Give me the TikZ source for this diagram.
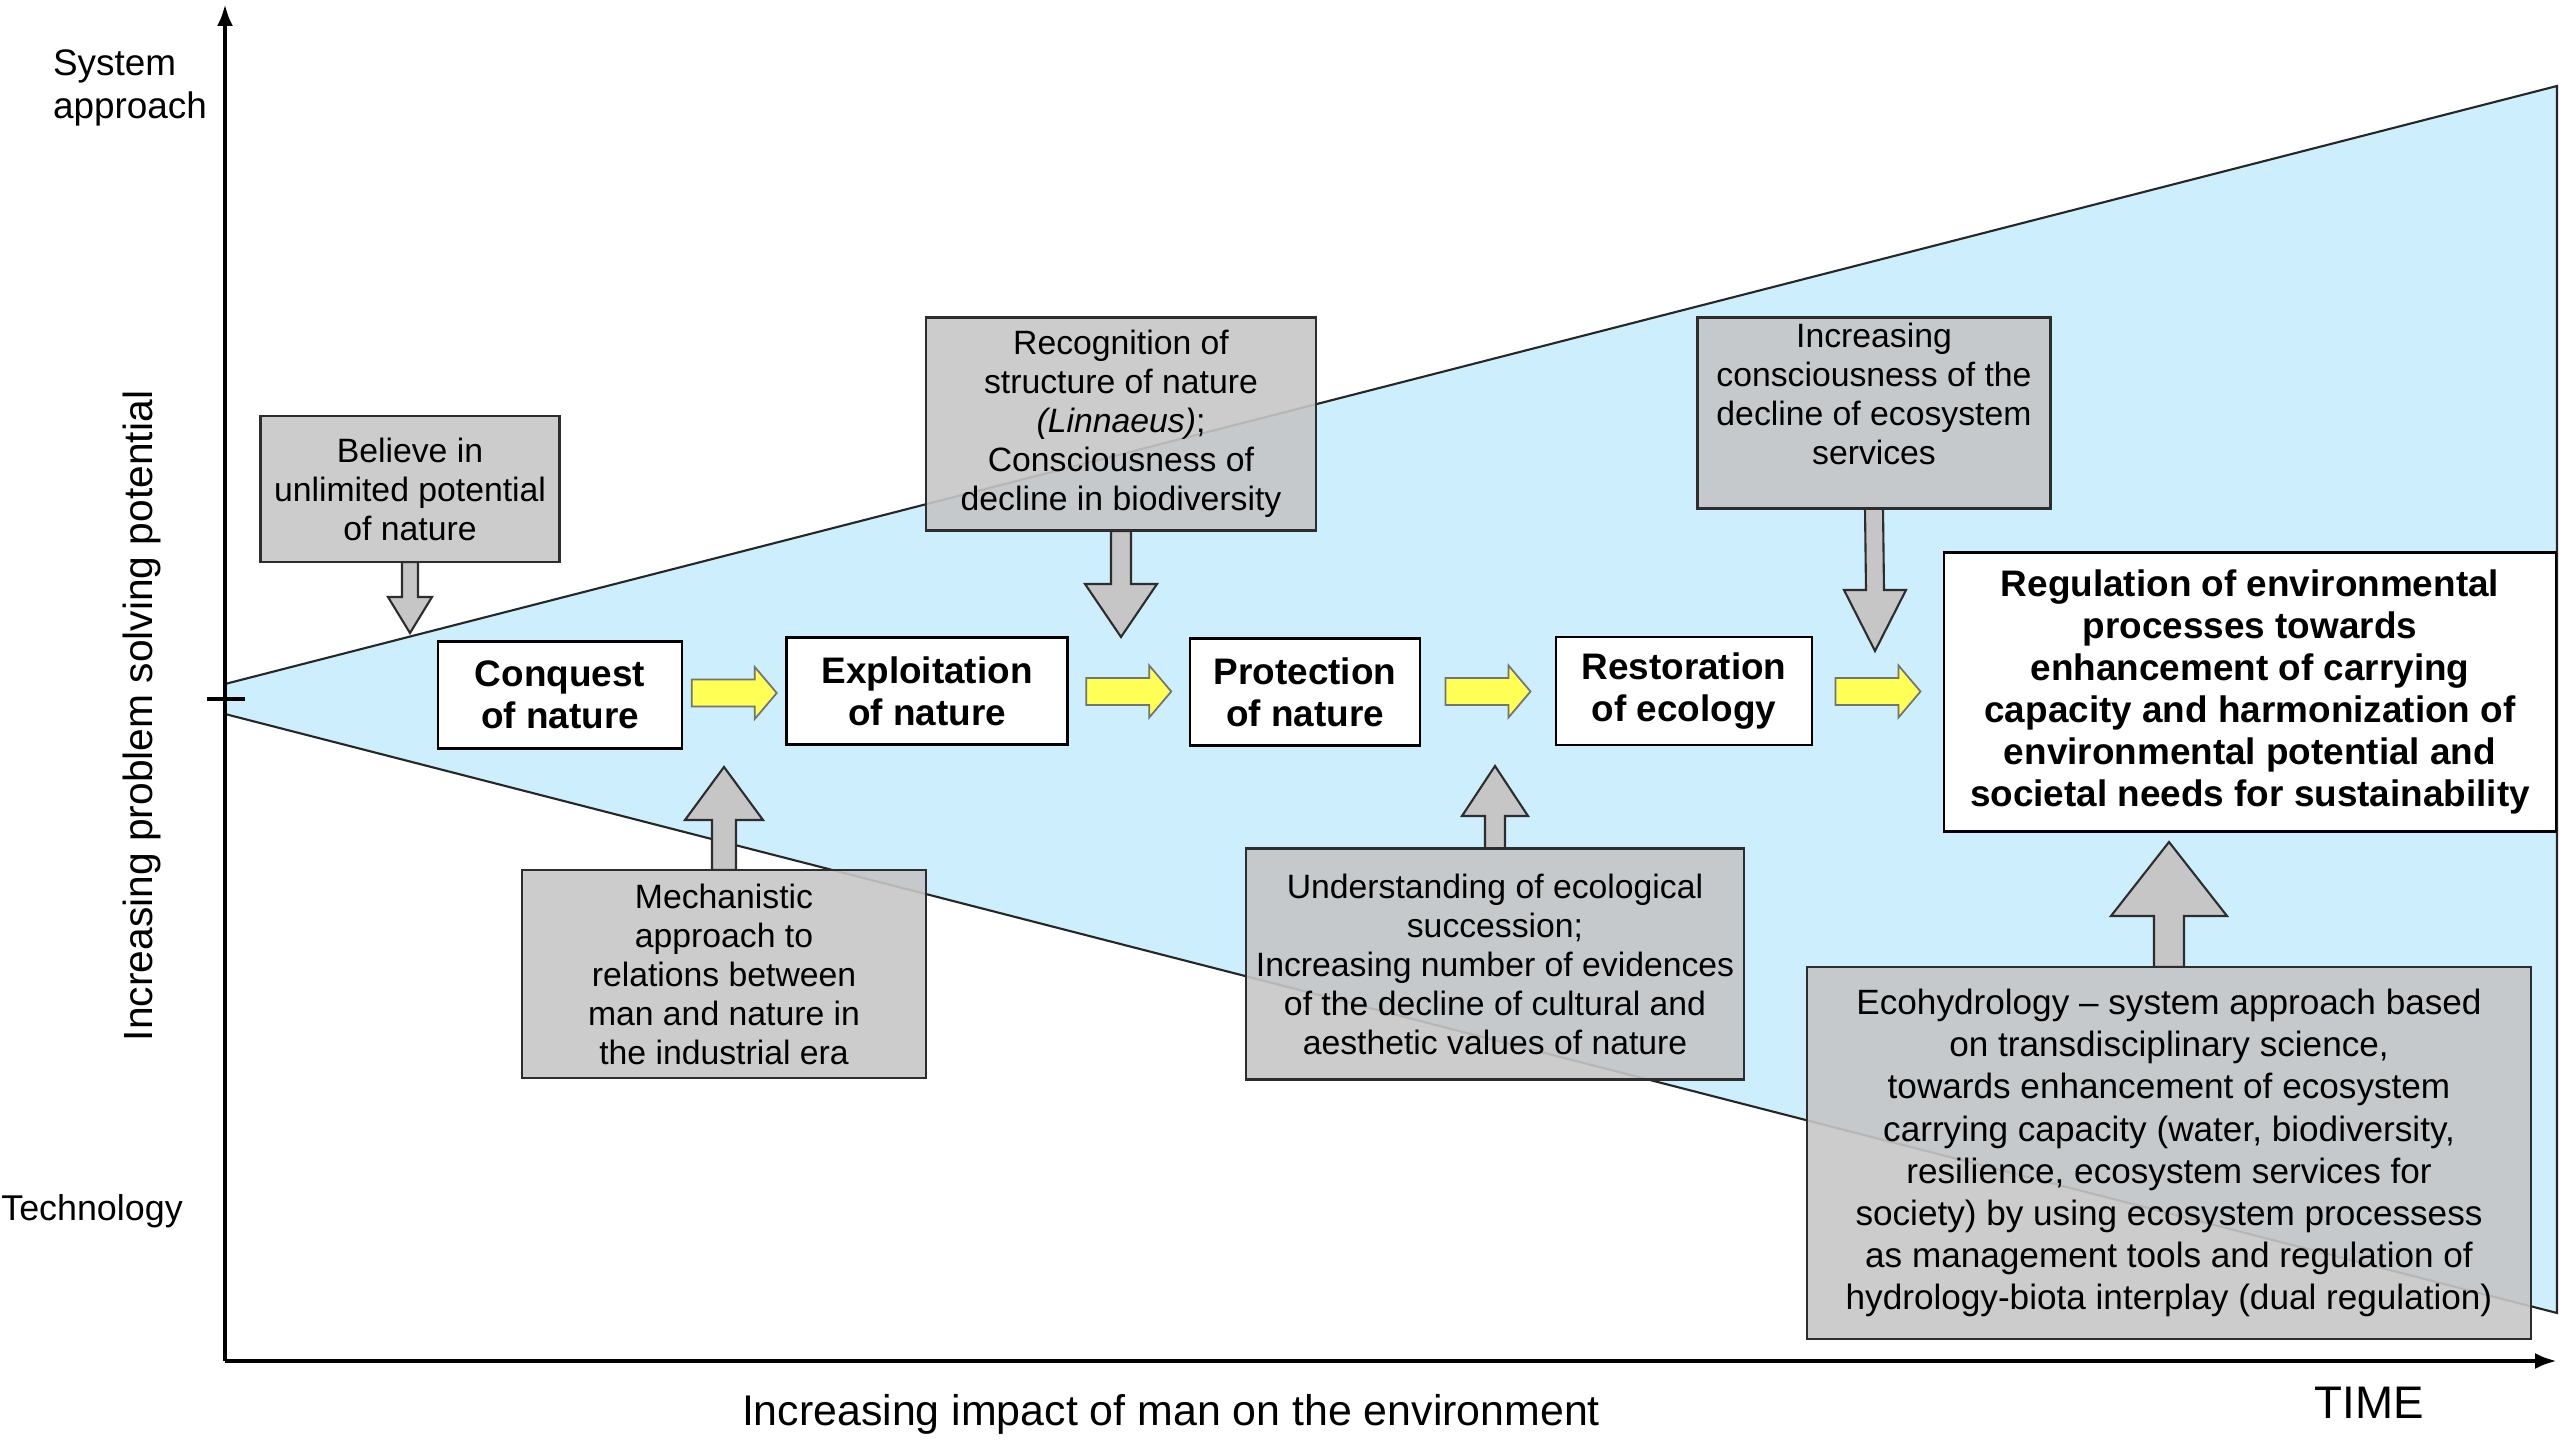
\documentclass[tikz,border=0pt]{standalone}
\usepackage{fontspec}
\setmainfont{Liberation Sans}
\usetikzlibrary{calc,arrows.meta}
\definecolor{skyfill}{RGB}{205,238,252}
\definecolor{boxgray}{RGB}{198,198,198}
\definecolor{boxline}{RGB}{45,45,45}
\definecolor{arrowyellow}{RGB}{255,255,85}

% vertical block arrow: #1 base on box edge, #2 tip, #3 shaft half width,
% #4 head half width, #5 signed head length (negative: tip points down)
\newcommand{\vblock}[5]{%
  \draw[grayarrow] ($(#1)+(-#3,0)$) -- ($(#2)+(-#3,#5)$) -- ($(#2)+(-#4,#5)$)
    -- (#2) -- ($(#2)+(#4,#5)$) -- ($(#2)+(#3,#5)$) -- ($(#1)+(#3,0)$) -- cycle;}
% short yellow block arrow centred on #1, pointing right
\newcommand{\yblock}[1]{%
  \draw[yellowarrow] ($(#1)+(-42.5,-13.5)$) -- ($(#1)+(20.5,-13.5)$) -- ($(#1)+(20.5,-26)$)
    -- ($(#1)+(42.5,0)$) -- ($(#1)+(20.5,26)$) -- ($(#1)+(20.5,13.5)$)
    -- ($(#1)+(-42.5,13.5)$) -- cycle;}

\begin{document}
\begin{tikzpicture}[x=0.1mm,y=-0.1mm,line join=miter,
  whitebox/.style={draw=black,line width=0.75pt,fill=white,align=center,inner sep=0pt,
    font=\fontsize{10.5}{12}\selectfont\bfseries},
  graybox/.style={draw=boxline,line width=0.75pt,fill=boxgray,fill opacity=0.9,text opacity=1,
    align=center,inner sep=0pt,font=\fontsize{9.6}{11.1}\selectfont},
  grayarrow/.style={draw=boxline,line width=0.6pt,fill=boxgray},
  yellowarrow/.style={draw=black!55,line width=0.5pt,fill=arrowyellow},
  edge/.style={draw=black!85,line width=0.6pt},
  axis/.style={line width=1.2pt,-{Latex[length=2.2mm,width=1.6mm]}},
]
\useasboundingbox (0,0) rectangle (2560,1440);

% widening band of problem solving potential
\coordinate (bandUL) at (225,684);
\coordinate (bandUR) at (2557,86);
\coordinate (bandLR) at (2557,1313);
\coordinate (bandLL) at (225,714);
\fill[skyfill] (bandUL) -- (bandUR) -- (bandLR) -- (bandLL) -- cycle;
\draw[edge] (bandUL) -- (bandUR) -- (bandLR) -- (bandLL);

% axes
\coordinate (origin) at (225,1361);
\coordinate (ytop) at (225,4);
\coordinate (xend) at (2557,1361);
\draw[axis] (origin) -- (ytop);
\draw[axis] (origin) -- (xend);
\coordinate (tickL) at (207,699);
\coordinate (tickR) at (245,699);
\draw[line width=1.1pt] (tickL) -- (tickR);

% axis labels
\node[align=left,font=\fontsize{10.5}{12}\selectfont] (sysap) at (130,88) {System\\approach};
\node[font=\fontsize{10.2}{12}\selectfont] (tech) at (92,1211) {Technology};
\node[rotate=90,font=\fontsize{11.6}{13}\selectfont] (ylab) at (142,716) {Increasing problem solving potential};
\node[font=\fontsize{12.2}{14}\selectfont] (xlab) at (1171,1414) {Increasing impact of man on the environment};
\node[font=\fontsize{13}{15}\selectfont] (time) at (2369,1403) {TIME};

% stage boxes
\node[whitebox,minimum width=24.4mm,minimum height=10.7mm] (conquest) at (560,695) {Conquest\\of nature};
\node[whitebox,minimum width=28.1mm,minimum height=10.7mm] (exploit) at (927,691) {Exploitation\\of nature};
\node[whitebox,minimum width=23.0mm,minimum height=10.7mm] (protect) at (1305,692) {Protection\\of nature};
\node[whitebox,minimum width=25.6mm,minimum height=10.8mm] (restore) at (1684,691) {Restoration\\of ecology};
\node[whitebox,minimum width=61.2mm,minimum height=27.9mm] (regul) at (2250,692)
  {Regulation of environmental\\processes towards\\enhancement of carrying\\capacity and harmonization of\\environmental potential and\\societal needs for sustainability};

% arrow tips
\coordinate (tipBelieve) at (410,633);
\coordinate (tipRecog) at (1121,637);
\coordinate (tipConsc) at (1875,651);
\coordinate (tipMech) at (724,767);
\coordinate (tipUnder) at (1495,766);
\coordinate (tipEco) at (2169,842);

% driver boxes (positions only, arrows drawn underneath)
\path (410,489) coordinate (cBelieve)
      (1121,424) coordinate (cRecog)
      (1874,413) coordinate (cConsc)
      (724,974) coordinate (cMech)
      (1495,964) coordinate (cUnder)
      (2169,1153) coordinate (cEco);

\vblock{410,562}{tipBelieve}{8}{22}{-36}
\vblock{1121,531}{tipRecog}{10}{36}{-53}
\vblock{1874,508}{tipConsc}{9}{31}{-61}
\vblock{724,870}{tipMech}{12}{39}{53}
\vblock{1495,849}{tipUnder}{10}{33}{50}
\vblock{2169,967}{tipEco}{15}{58}{74}

\node[graybox,minimum width=29.9mm,minimum height=14.6mm] (believe) at (cBelieve)
  {Believe in\\unlimited potential\\of nature};
\node[graybox,minimum width=39.0mm,minimum height=21.3mm] (recog) at (cRecog)
  {Recognition of\\structure of nature\\\textit{(Linnaeus)};\\Consciousness of\\decline in biodiversity};
\node[graybox,minimum width=35.3mm,minimum height=19.1mm] (consc) at (cConsc) {};
\node[align=center,font=\fontsize{9.6}{11.1}\selectfont] (consctext) at (1874,394)
  {Increasing\\consciousness of the\\decline of ecosystem\\services};
\node[graybox,minimum width=40.4mm,minimum height=20.8mm] (mech) at (cMech)
  {Mechanistic\\approach to\\relations between\\man and nature in\\the industrial era};
\node[graybox,minimum width=49.8mm,minimum height=23.1mm] (under) at (cUnder)
  {Understanding of ecological\\succession;\\Increasing number of evidences\\of the decline of cultural and\\aesthetic values of nature};
\node[graybox,minimum width=72.4mm,minimum height=37.2mm,font=\fontsize{10}{12}\selectfont] (eco) at (cEco)
  {Ecohydrology -- system approach based\\on transdisciplinary science,\\towards enhancement of ecosystem\\carrying capacity (water, biodiversity,\\resilience, ecosystem services for\\society) by using ecosystem processess\\as management tools and regulation of\\hydrology-biota interplay (dual regulation)};

% yellow progression arrows
\yblock{$(conquest.east)!0.5!(exploit.west)$}
\yblock{$(exploit.east)!0.5!(protect.west)$}
\yblock{$(protect.east)!0.5!(restore.west)$}
\yblock{$(restore.east)!0.5!(regul.west)$}
\end{tikzpicture}
\end{document}
